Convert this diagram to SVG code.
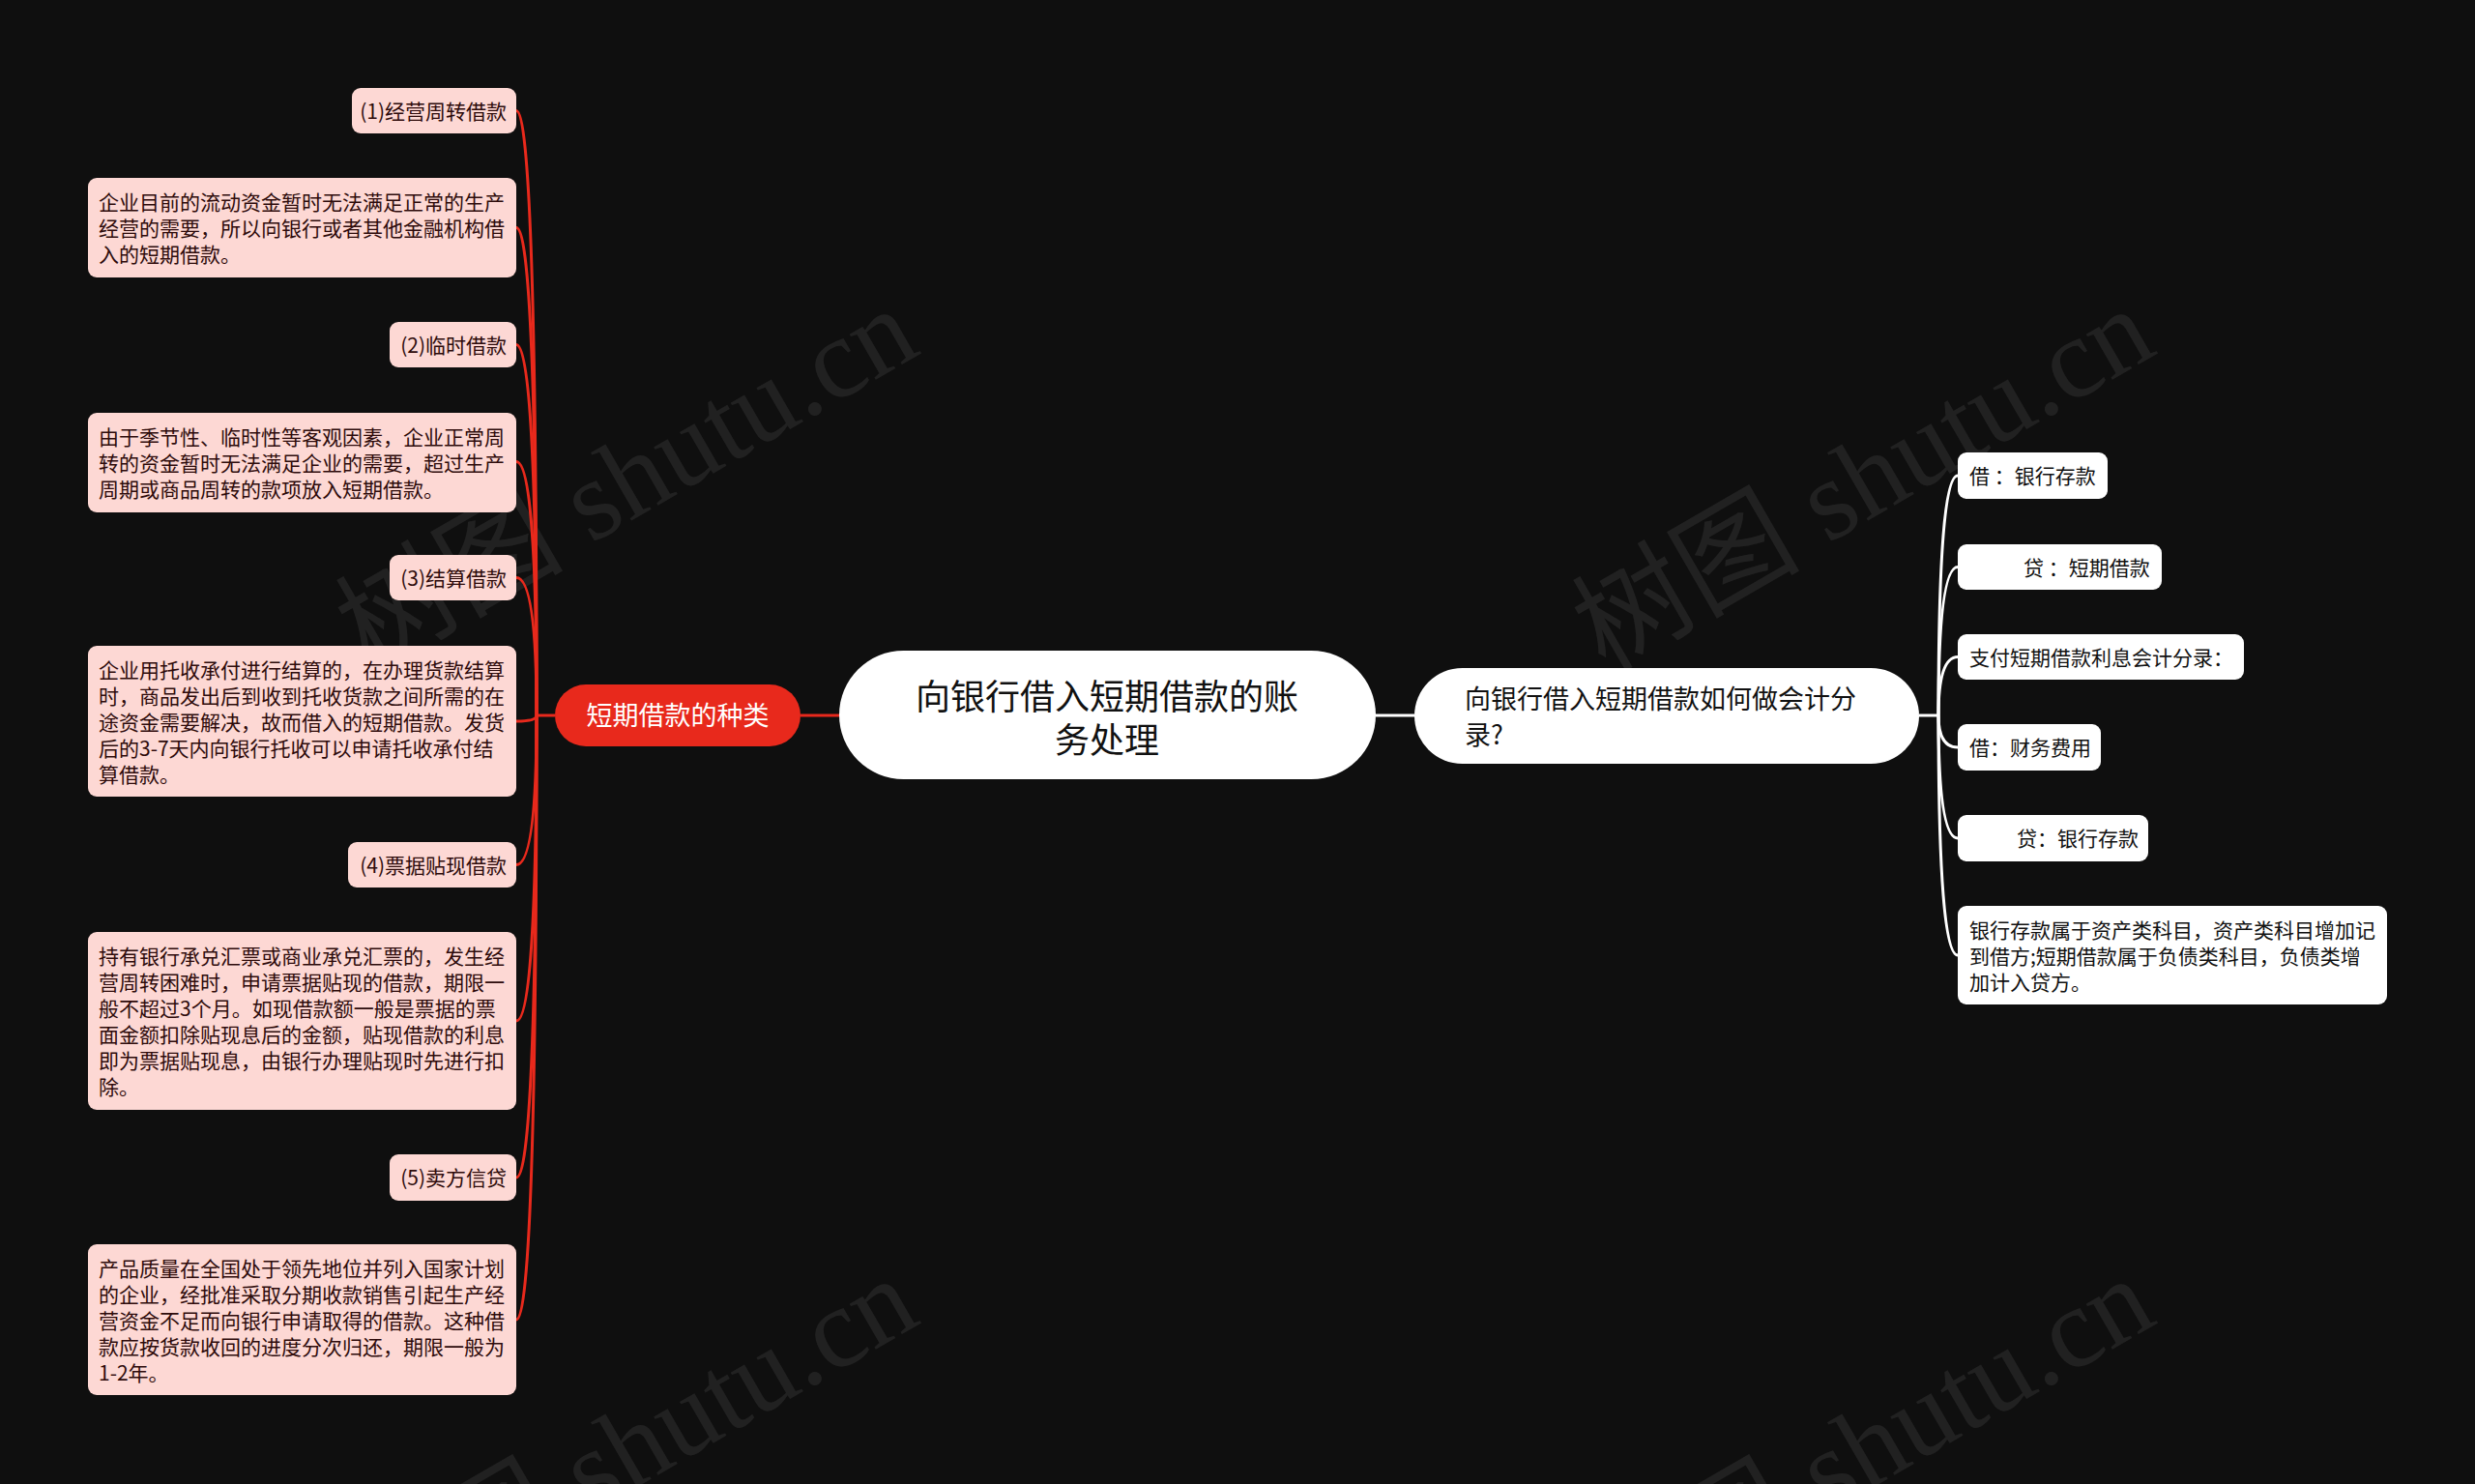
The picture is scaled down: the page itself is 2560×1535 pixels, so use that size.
<svg xmlns="http://www.w3.org/2000/svg" width="2560" height="1535" viewBox="0 0 2560 1535">
<style>
text{font-family:"Noto Sans CJK SC","Noto Sans",sans-serif;}
.wm{font-family:"Liberation Serif","Noto Sans CJK SC",serif;font-size:118px;fill:#ffffff;fill-opacity:0.08;text-anchor:middle;}
.pink rect{fill:#fdd8d4;}
.pink text{fill:#2e0b0b;font-size:21px;}
.lbl text{text-anchor:end;}
.wbox rect{fill:#ffffff;}
.wbox text{fill:#111111;font-size:21px;}
.red{fill:none;stroke:#e8291c;stroke-width:3;}
.wht{fill:none;stroke:#ffffff;stroke-width:3;}
</style>
<rect width="2560" height="1535" fill="#0f0f0f"/>
<g id="watermarks">
<text class="wm" transform="translate(668,530) rotate(-30)">树图 shutu.cn</text>
<text class="wm" transform="translate(1947,530) rotate(-30)">树图 shutu.cn</text>
<text class="wm" transform="translate(668,1533) rotate(-30)">树图 shutu.cn</text>
<text class="wm" transform="translate(1947,1533) rotate(-30)">树图 shutu.cn</text>
</g>
<g id="connectors">
<path class="red" d="M574 740 L555 740"/>
<path class="red" d="M828 740 L868 740"/>
<path class="red" d="M555 740 Q555 114.5 534 114.5"/>
<path class="red" d="M555 740 Q555 235.5 534 235.5"/>
<path class="red" d="M555 740 Q555 356.5 534 356.5"/>
<path class="red" d="M555 740 Q555 477.5 534 477.5"/>
<path class="red" d="M555 740 Q555 597.5 534 597.5"/>
<path class="red" d="M555 740 Q555 746 534 746"/>
<path class="red" d="M555 740 Q555 894.5 534 894.5"/>
<path class="red" d="M555 740 Q555 1056 534 1056"/>
<path class="red" d="M555 740 Q555 1218 534 1218"/>
<path class="red" d="M555 740 Q555 1365 534 1365"/>
<path class="wht" d="M1423 740 L1463 740"/>
<path class="wht" d="M1985 740 L2005 740"/>
<path class="wht" d="M2005 740 Q2005 492 2025 492"/>
<path class="wht" d="M2005 740 Q2005 586.5 2025 586.5"/>
<path class="wht" d="M2005 740 Q2005 679.5 2025 679.5"/>
<path class="wht" d="M2005 740 Q2005 773 2025 773"/>
<path class="wht" d="M2005 740 Q2005 867 2025 867"/>
<path class="wht" d="M2005 740 Q2005 988 2025 988"/>
</g>
<g id="root">
<rect x="868" y="673" width="555" height="133" rx="66.5" fill="#ffffff"/>
<text font-size="36" fill="#111111" text-anchor="middle"><tspan x="1145" y="734">向银行借入短期借款的账</tspan><tspan x="1145" y="779">务处理</tspan></text>
</g>
<g id="types">
<rect x="574" y="708" width="254" height="64" rx="32" fill="#e8291c"/>
<text x="701" y="750" font-size="27" fill="#ffffff" text-anchor="middle">短期借款的种类</text>
</g>
<g id="entry">
<rect x="1463" y="691" width="522" height="99" rx="49.5" fill="#ffffff"/>
<text font-size="27" fill="#111111"><tspan x="1515" y="733">向银行借入短期借款如何做会计分</tspan><tspan x="1515" y="770">录?</tspan></text>
</g>
<g id="t1" class="pink lbl">
<rect x="364" y="91" width="170" height="47" rx="9"/>
<text x="524" y="122.5">(1)经营周转借款</text>
</g>
<g id="d1" class="pink">
<rect x="91" y="184" width="443" height="103" rx="9"/>
<text x="102" y="216.5">企业目前的流动资金暂时无法满足正常的生产</text>
<text x="102" y="243.5">经营的需要，所以向银行或者其他金融机构借</text>
<text x="102" y="270.5">入的短期借款。</text>
</g>
<g id="t2" class="pink lbl">
<rect x="403" y="333" width="131" height="47" rx="9"/>
<text x="524" y="364.5">(2)临时借款</text>
</g>
<g id="d2" class="pink">
<rect x="91" y="427" width="443" height="103" rx="9"/>
<text x="102" y="459.5">由于季节性、临时性等客观因素，企业正常周</text>
<text x="102" y="486.5">转的资金暂时无法满足企业的需要，超过生产</text>
<text x="102" y="513.5">周期或商品周转的款项放入短期借款。</text>
</g>
<g id="t3" class="pink lbl">
<rect x="403" y="574" width="131" height="47" rx="9"/>
<text x="524" y="605.5">(3)结算借款</text>
</g>
<g id="d3" class="pink">
<rect x="91" y="668" width="443" height="156" rx="9"/>
<text x="102" y="700.5">企业用托收承付进行结算的，在办理货款结算</text>
<text x="102" y="727.5">时，商品发出后到收到托收货款之间所需的在</text>
<text x="102" y="754.5">途资金需要解决，故而借入的短期借款。发货</text>
<text x="102" y="781.5">后的3-7天内向银行托收可以申请托收承付结</text>
<text x="102" y="808.5">算借款。</text>
</g>
<g id="t4" class="pink lbl">
<rect x="360" y="871" width="174" height="47" rx="9"/>
<text x="524" y="902.5">(4)票据贴现借款</text>
</g>
<g id="d4" class="pink">
<rect x="91" y="964" width="443" height="184" rx="9"/>
<text x="102" y="996.5">持有银行承兑汇票或商业承兑汇票的，发生经</text>
<text x="102" y="1023.5">营周转困难时，申请票据贴现的借款，期限一</text>
<text x="102" y="1050.5">般不超过3个月。如现借款额一般是票据的票</text>
<text x="102" y="1077.5">面金额扣除贴现息后的金额，贴现借款的利息</text>
<text x="102" y="1104.5">即为票据贴现息，由银行办理贴现时先进行扣</text>
<text x="102" y="1131.5">除。</text>
</g>
<g id="t5" class="pink lbl">
<rect x="403" y="1194" width="131" height="48" rx="9"/>
<text x="524" y="1226">(5)卖方信贷</text>
</g>
<g id="d5" class="pink">
<rect x="91" y="1287" width="443" height="156" rx="9"/>
<text x="102" y="1319.5">产品质量在全国处于领先地位并列入国家计划</text>
<text x="102" y="1346.5">的企业，经批准采取分期收款销售引起生产经</text>
<text x="102" y="1373.5">营资金不足而向银行申请取得的借款。这种借</text>
<text x="102" y="1400.5">款应按货款收回的进度分次归还，期限一般为</text>
<text x="102" y="1427.5">1-2年。</text>
</g>
<g id="r1" class="wbox">
<rect x="2025" y="468" width="155" height="48" rx="9"/>
<text x="2037" y="500">借 ：银行存款</text>
</g>
<g id="r2" class="wbox">
<rect x="2025" y="563" width="211" height="47" rx="9"/>
<text x="2093" y="594.5">贷 ：短期借款</text>
</g>
<g id="r3" class="wbox">
<rect x="2025" y="656" width="296" height="47" rx="9"/>
<text x="2037" y="687.5">支付短期借款利息会计分录：</text>
</g>
<g id="r4" class="wbox">
<rect x="2025" y="749" width="148" height="48" rx="9"/>
<text x="2037" y="781">借：财务费用</text>
</g>
<g id="r5" class="wbox">
<rect x="2025" y="843" width="197" height="48" rx="9"/>
<text x="2086" y="875">贷：银行存款</text>
</g>
<g id="r6" class="wbox">
<rect x="2025" y="937" width="444" height="102" rx="9"/>
<text x="2037" y="970">银行存款属于资产类科目，资产类科目增加记</text>
<text x="2037" y="997">到借方;短期借款属于负债类科目，负债类增</text>
<text x="2037" y="1024">加计入贷方。</text>
</g>
</svg>
